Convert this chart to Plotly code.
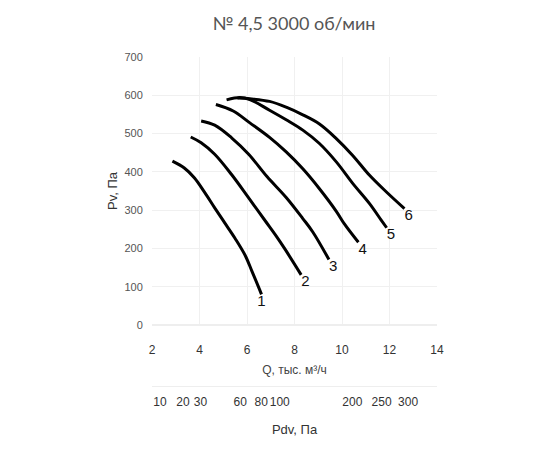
import math
import plotly.graph_objects as go

# Data
title_text = "№ 4,5 3000 об/мин"
curve_names = ["1", "2", "3", "4", "5", "6"]
q1 = [2.86, 3.36, 3.79, 4.21, 4.64, 5.07, 5.50, 5.93, 6.21, 6.50, 6.61]
p1 = [428, 410, 384, 347, 306, 266, 226, 181, 140, 97, 80]
q2 = [3.63, 4.07, 4.64, 5.35, 6.07, 6.78, 7.21, 7.60, 8.28]
p2 = [491, 476, 446, 393, 332, 271, 234, 198, 131]
q3 = [4.07, 4.64, 5.35, 6.07, 6.85, 7.65, 8.35, 8.77, 9.45]
p3 = [533, 522, 489, 446, 387, 333, 278, 243, 171]
q4 = [4.69, 5.42, 6.12, 6.95, 7.65, 8.35, 9.05, 9.76, 10.10, 10.69]
p4 = [576, 559, 528, 490, 452, 408, 356, 297, 264, 216]
q5 = [5.14, 5.70, 6.12, 6.95, 7.65, 8.35, 9.05, 9.76, 10.45, 11.16, 11.65, 11.88]
p5 = [588, 594, 589, 561, 536, 509, 474, 426, 370, 317, 274, 254]
q6 = [5.60, 6.12, 6.95, 7.65, 8.35, 9.05, 9.76, 10.45, 11.16, 11.86, 12.63]
p6 = [593, 591, 584, 569, 549, 525, 487, 443, 391, 348, 304]

x_ticks = [2, 4, 6, 8, 10, 12, 14]
y_ticks = [0, 100, 200, 300, 400, 500, 600, 700]
pdv_ticks = [10, 20, 30, 60, 80, 100, 200, 250, 300]
PDV_COEF = 1.836  # Pdv = PDV_COEF * Q^2

curves_q = [q1, q2, q3, q4, q5, q6]
curves_p = [p1, p2, p3, p4, p5, p6]

fig = go.Figure()
for name, qs, ps in zip(curve_names, curves_q, curves_p):
    fig.add_trace(go.Scatter(
        x=qs, y=ps, mode="lines", line=dict(color="#000000", width=3, shape="spline", smoothing=1.0),
        showlegend=False, hoverinfo="skip"))
    fig.add_trace(go.Scatter(
        x=[qs[-1]], y=[ps[-1]], mode="text", text=[name],
        textposition="bottom center" if name == "1" else "bottom right",
        textfont=dict(family="Liberation Sans, Arial", size=15, color="#111111"),
        showlegend=False, hoverinfo="skip", cliponaxis=False))

# invisible trace on the secondary axis
pdv_pos = [math.sqrt(v / PDV_COEF) for v in pdv_ticks]
fig.add_trace(go.Scatter(x=[x_ticks[0]], y=[0], xaxis="x2", mode="markers",
                         marker=dict(opacity=0), showlegend=False, hoverinfo="skip"))

H = 450
top, bottom = 49, 10
plot_h = H - top - bottom
ydom0 = (H - bottom - 317) / plot_h
x2pos = (H - bottom - 378) / plot_h

fig.update_layout(
    width=550, height=450,
    margin=dict(l=144, r=121, t=top, b=bottom),
    plot_bgcolor="white", paper_bgcolor="white",
    title=dict(text=title_text, x=0.52, xanchor="center", y=0.965, yanchor="middle",
               font=dict(family="Lato, Noto Sans", size=18, color="#555555")),
    xaxis=dict(range=[2, 14], tickvals=x_ticks, showgrid=True, gridcolor="#f0f0f0", gridwidth=1,
               zeroline=False, showline=False, ticks="outside", ticklen=14, tickcolor="rgba(0,0,0,0)",
               tickfont=dict(family="Liberation Sans, Arial", size=12, color="#333333"),
               title=dict(text="Q, тыс. м³/ч", standoff=9,
                          font=dict(family="Liberation Sans, Arial", size=12, color="#444444")),
               anchor="y", automargin=False),
    xaxis2=dict(range=[2, 14], overlaying="x", anchor="free", position=x2pos, side="bottom",
                tickvals=pdv_pos, ticktext=[str(v) for v in pdv_ticks], showgrid=False, zeroline=False,
                showline=True, linecolor="#eeeeee", linewidth=1, tickangle=0,
                ticks="outside", ticklen=5, tickcolor="rgba(0,0,0,0)",
                tickfont=dict(family="Liberation Sans, Arial", size=12, color="#333333"),
                title=dict(text="Pdv, Па", standoff=16,
                           font=dict(family="Liberation Sans, Arial", size=13, color="#333333")),
                automargin=False),
    yaxis=dict(range=[0, 700], tickvals=y_ticks, domain=[ydom0, 1], showgrid=True, gridcolor="#f0f0f0",
               zeroline=True, zerolinecolor="#eeeeee", showline=False,
               ticks="outside", ticklen=6, tickcolor="rgba(0,0,0,0)",
               tickfont=dict(family="Liberation Sans, Arial", size=11, color="#555555"),
               title=dict(text="Pv, Па", standoff=3,
                          font=dict(family="Liberation Sans, Arial", size=13, color="#333333")),
               automargin=False),
)

fig.write_html("out.html")
